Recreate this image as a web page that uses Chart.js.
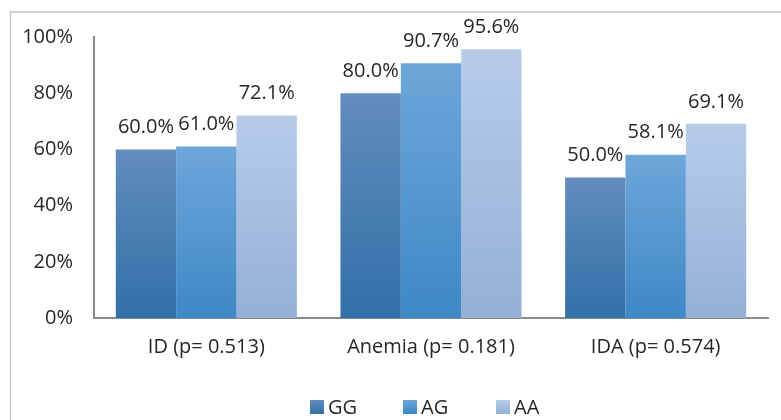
<!DOCTYPE html>
<html>
<head>
<meta charset="utf-8">
<script src="https://cdn.jsdelivr.net/npm/chart.js@4/dist/chart.umd.min.js"></script>
<style>
  html, body { margin: 0; padding: 0; background: #ffffff; }
  #wrap { width: 781px; height: 420px; position: relative; }
  #legend {
    position: absolute; left: 310px; top: 396px;
    display: flex; font-family: 'Open Sans', 'DejaVu Sans', sans-serif;
    font-size: 20px; color: #262626; line-height: 22px;
  }
  #legend .item { display: flex; align-items: center; width: 93px; }
  #legend .box { width: 14px; height: 14px; margin-right: 4px; }
</style>
</head>
<body>
<div id="wrap">
  <canvas id="chart" width="781" height="420"></canvas>
  <div id="legend"></div>
</div>
<script>
// Categories (with p-values) and genotype percentages
const categories = ['ID (p= 0.513)', 'Anemia (p= 0.181)', 'IDA (p= 0.574)'];
const seriesNames = ['GG', 'AG', 'AA'];
const ggValues = [60.0, 80.0, 50.0];
const agValues = [61.0, 90.7, 58.1];
const aaValues = [72.1, 95.6, 69.1];
const yTicks = [0, 20, 40, 60, 80, 100];

// Each series shades from a lighter top to a darker base
const seriesColors = [
  { top: '#628dbd', bottom: '#3170a8', mid: '#4a7eb3' },
  { top: '#6ea6da', bottom: '#3d88c6', mid: '#5597d0' },
  { top: '#b6cce9', bottom: '#93b0d6', mid: '#a5bedf' }
];

const FONT = "'Open Sans', 'DejaVu Sans', sans-serif";
const FONT_SIZE = 20;
const TEXT_COLOR = '#262626';
const AXIS_COLOR = '#8a8a8a';

function barFill(idx) {
  return function (ctx) {
    const chart = ctx.chart;
    const c = seriesColors[idx];
    if (ctx.type !== 'data' || !chart.chartArea) return c.mid;
    const yScale = chart.scales.y;
    const top = yScale.getPixelForValue(ctx.raw);
    const base = yScale.getPixelForValue(0);
    if (!isFinite(top) || !isFinite(base) || top === base) return c.mid;
    const g = chart.ctx.createLinearGradient(0, top, 0, base);
    g.addColorStop(0, c.top);
    g.addColorStop(1, c.bottom);
    return g;
  };
}

// Frame lines along the left and top of the chart panel
const framePlugin = {
  id: 'frame',
  beforeDraw(chart) {
    const ctx = chart.ctx;
    ctx.save();
    ctx.fillStyle = '#ffffff';
    ctx.fillRect(0, 0, chart.width, chart.height);
    ctx.strokeStyle = '#c4c4c4';
    ctx.lineWidth = 1.3;
    ctx.beginPath();
    ctx.moveTo(10.5, chart.height);
    ctx.lineTo(10.5, 12);
    ctx.lineTo(chart.width, 12);
    ctx.stroke();
    ctx.restore();
  }
};

// Value labels above every bar
const valueLabels = {
  id: 'valueLabels',
  afterDatasetsDraw(chart) {
    const ctx = chart.ctx;
    ctx.save();
    ctx.font = FONT_SIZE + 'px ' + FONT;
    ctx.fillStyle = TEXT_COLOR;
    ctx.textAlign = 'center';
    ctx.textBaseline = 'middle';
    chart.data.datasets.forEach((ds, di) => {
      const meta = chart.getDatasetMeta(di);
      meta.data.forEach((bar, i) => {
        ctx.fillText(ds.data[i].toFixed(1) + '%', bar.x, bar.y - 22);
      });
    });
    ctx.restore();
  }
};

const allSeries = [ggValues, agValues, aaValues];

new Chart(document.getElementById('chart'), {
  type: 'bar',
  data: {
    labels: categories,
    datasets: seriesNames.map((name, i) => ({
      label: name,
      data: allSeries[i],
      backgroundColor: barFill(i),
      borderWidth: 0,
      categoryPercentage: 0.806,
      barPercentage: 1.0
    }))
  },
  options: {
    responsive: false,
    animation: false,
    devicePixelRatio: 1,
    layout: { padding: { left: 0, right: 13, top: 37, bottom: 30 } },
    plugins: {
      legend: { display: false },
      tooltip: { enabled: false }
    },
    scales: {
      x: {
        grid: { display: false, drawTicks: false },
        border: { display: true, color: AXIS_COLOR, width: 2 },
        ticks: {
          color: TEXT_COLOR,
          font: { family: FONT, size: FONT_SIZE },
          padding: 17,
          maxRotation: 0
        },
        afterFit(scale) { scale.height = 72; }
      },
      y: {
        min: 0,
        max: 100,
        afterBuildTicks(scale) { scale.ticks = yTicks.map(v => ({ value: v })); },
        grid: { display: false, drawTicks: false },
        border: { display: true, color: AXIS_COLOR, width: 2 },
        ticks: {
          color: TEXT_COLOR,
          font: { family: FONT, size: FONT_SIZE },
          padding: 21,
          callback: v => v + '%'
        },
        afterFit(scale) { scale.width = 94; }
      }
    }
  },
  plugins: [framePlugin, valueLabels]
});

// Legend: one swatch per genotype series, shaded like its bars
const legendEl = document.getElementById('legend');
seriesNames.forEach((name, i) => {
  const item = document.createElement('div');
  item.className = 'item';
  const box = document.createElement('span');
  box.className = 'box';
  box.style.background = 'linear-gradient(' + seriesColors[i].top + ', ' + seriesColors[i].bottom + ')';
  const label = document.createElement('span');
  label.textContent = name;
  item.appendChild(box);
  item.appendChild(label);
  legendEl.appendChild(item);
});
</script>
</body>
</html>
